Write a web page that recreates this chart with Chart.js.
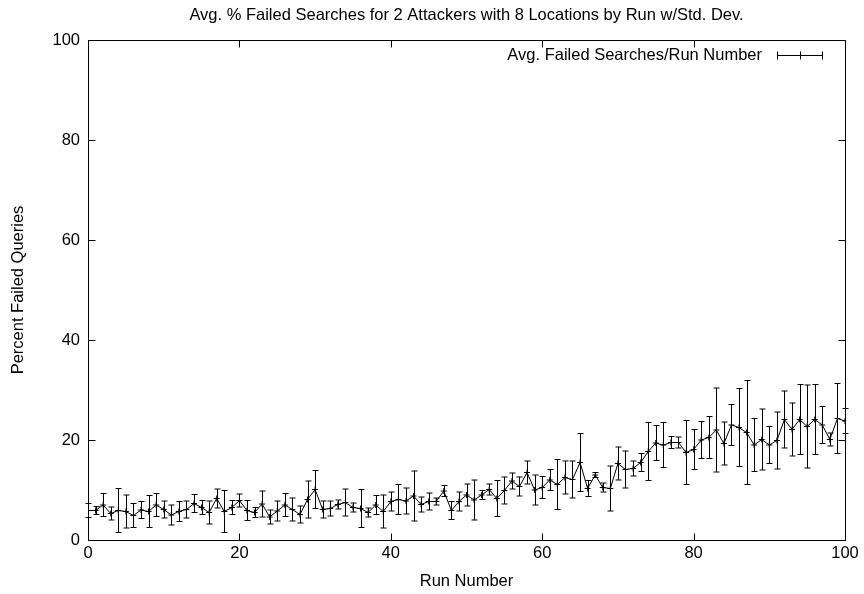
<!DOCTYPE html>
<html>
<head>
<meta charset="utf-8">
<script src="https://cdn.jsdelivr.net/npm/chart.js@4"></script>
<style>
html,body{margin:0;padding:0;background:#fff;}
#wrap{width:864px;height:594px;position:relative;}
</style>
</head>
<body>
<div id="wrap"><canvas id="c" width="864" height="594"></canvas></div>
<script>
const titleText = "Avg. % Failed Searches for 2 Attackers with 8 Locations by Run w/Std. Dev.";
const legendText = "Avg. Failed Searches/Run Number";
const xTitle = "Run Number";
const yTitle = "Percent Failed Queries";

const runs = Array.from({length: 101}, (_, i) => i);
const avgFailed = [
  5.9,5.9,7.0,5.3,5.9,5.7,4.9,6.0,5.7,7.0,
  6.1,5.0,5.7,6.1,7.3,6.5,5.5,8.3,5.7,6.5,
  7.9,5.9,5.5,7.2,4.6,5.8,7.0,6.1,5.1,8.1,
  10.1,6.1,6.3,7.1,7.5,6.5,6.3,5.5,7.0,5.7,
  7.7,8.1,7.8,8.8,7.1,7.7,7.7,9.8,5.9,7.7,
  9.0,8.0,9.0,10.1,8.3,9.9,11.8,10.7,13.5,10.0,
  10.5,12.0,11.1,12.5,12.1,15.5,10.3,13.0,10.5,10.3,
  15.3,14.1,14.3,15.5,17.7,19.4,19.0,19.5,19.5,17.5,
  18.1,20.0,20.5,22.0,19.3,23.0,22.5,21.5,19.0,20.1,
  19.0,19.9,24.1,22.1,24.1,22.7,24.1,23.0,20.1,24.3,
  23.8
];
const stdDev = [
  1.4,0.8,2.3,1.3,4.4,3.3,2.4,1.7,3.2,2.3,
  1.7,2.0,2.0,1.7,1.8,1.4,2.3,1.9,4.2,1.4,
  1.3,2.0,1.0,2.6,1.4,2.0,2.3,2.3,1.7,3.7,
  3.8,1.7,1.5,0.9,2.7,0.9,3.8,0.9,1.9,3.3,
  1.9,3.0,2.6,5.0,1.5,1.7,0.7,1.1,1.8,1.9,
  2.2,4.0,0.9,1.1,3.6,2.7,1.6,1.9,2.3,3.0,
  2.2,2.1,5.0,3.3,3.7,5.8,1.6,0.5,0.9,4.5,
  3.3,3.7,1.5,1.8,5.8,3.5,4.5,1.2,1.1,6.4,
  4.0,3.7,4.2,8.4,4.3,4.1,7.8,10.4,5.3,6.1,
  3.7,5.7,5.7,5.3,7.0,8.3,7.0,3.7,1.3,7.0,
  2.5
];
const xTicks = [0, 20, 40, 60, 80, 100];
const yTicks = [0, 20, 40, 60, 80, 100];

const FONT = "'Liberation Sans', Arial, Helvetica, sans-serif";
const FS = 16.5;

const gnuplotPlugin = {
  id: 'gnuplotPlugin',
  afterDatasetsDraw(chart) {
    const ctx = chart.ctx;
    const xs = chart.scales.x, ys = chart.scales.y;
    const a = chart.chartArea;
    ctx.save();
    ctx.strokeStyle = '#000';
    ctx.lineWidth = 1;
    // error bars
    const cap = 3;
    ctx.beginPath();
    for (let i = 0; i < runs.length; i++) {
      const px = Math.round(xs.getPixelForValue(runs[i])) + 0.5;
      const lo = ys.getPixelForValue(avgFailed[i] - stdDev[i]);
      const hi = ys.getPixelForValue(avgFailed[i] + stdDev[i]);
      ctx.moveTo(px, lo); ctx.lineTo(px, hi);
      ctx.moveTo(px - cap, hi); ctx.lineTo(px + cap, hi);
      ctx.moveTo(px - cap, lo); ctx.lineTo(px + cap, lo);
    }
    ctx.stroke();
    // frame
    const L = Math.round(a.left) + 0.5, R = Math.round(a.right) + 0.5;
    const T = Math.round(a.top) + 0.5, B = Math.round(a.bottom) + 0.5;
    ctx.strokeRect(L, T, R - L, B - T);
    // inward ticks, mirrored
    const tl = 7;
    ctx.beginPath();
    xTicks.forEach(v => {
      const px = Math.round(xs.getPixelForValue(v)) + 0.5;
      ctx.moveTo(px, B); ctx.lineTo(px, B - tl);
      ctx.moveTo(px, T); ctx.lineTo(px, T + tl);
    });
    yTicks.forEach(v => {
      const py = Math.round(ys.getPixelForValue(v)) + 0.5;
      ctx.moveTo(L, py); ctx.lineTo(L + tl, py);
      ctx.moveTo(R, py); ctx.lineTo(R - tl, py);
    });
    ctx.stroke();
    // title
    ctx.fillStyle = '#000';
    ctx.font = FS + 'px ' + FONT;
    ctx.textAlign = 'center';
    ctx.textBaseline = 'middle';
    ctx.fillText(titleText, (a.left + a.right) / 2, 15);
    // legend
    ctx.textAlign = 'right';
    const ly = 55.5;
    ctx.fillText(legendText, 762, ly);
    ctx.beginPath();
    const lx0 = 777, lx1 = 823;
    ctx.moveTo(lx0, ly); ctx.lineTo(lx1, ly);
    ctx.moveTo(lx0 + 0.5, ly - 4); ctx.lineTo(lx0 + 0.5, ly + 4);
    ctx.moveTo(lx1 - 0.5, ly - 4); ctx.lineTo(lx1 - 0.5, ly + 4);
    const mx = Math.round((lx0 + lx1) / 2) + 0.5;
    ctx.moveTo(mx, ly - 4); ctx.lineTo(mx, ly + 4);
    ctx.stroke();
    ctx.restore();
  }
};

new Chart(document.getElementById('c'), {
  type: 'line',
  data: {
    datasets: [{
      label: legendText,
      data: runs.map((r, i) => ({x: r, y: avgFailed[i]})),
      borderColor: '#000',
      borderWidth: 1,
      backgroundColor: '#000',
      pointStyle: 'cross',
      pointRadius: 3,
      pointBorderWidth: 1,
      pointBorderColor: '#000',
      tension: 0,
      fill: false
    }]
  },
  options: {
    responsive: false,
    animation: false,
    devicePixelRatio: 1,
    layout: {padding: {left: 0, right: 19, top: 40, bottom: 0}},
    plugins: {
      legend: {display: false},
      title: {display: false},
      tooltip: {enabled: false}
    },
    scales: {
      x: {
        type: 'linear',
        min: 0, max: 100,
        afterBuildTicks: s => { s.ticks = xTicks.map(v => ({value: v})); },
        afterFit: s => { s.height = 54; },
        grid: {display: false, drawTicks: false},
        border: {display: false},
        ticks: {color: '#000', font: {family: FONT, size: FS}, padding: 4, maxRotation: 0},
        title: {display: true, text: xTitle, color: '#000', font: {family: FONT, size: FS}, padding: {top: 0, bottom: 3}}
      },
      y: {
        type: 'linear',
        min: 0, max: 100,
        afterBuildTicks: s => { s.ticks = yTicks.map(v => ({value: v})); },
        afterFit: s => { s.width = 88; },
        grid: {display: false, drawTicks: false},
        border: {display: false},
        ticks: {color: '#000', font: {family: FONT, size: FS}, padding: 8},
        title: {display: true, text: yTitle, color: '#000', font: {family: FONT, size: FS}, padding: {top: 9, bottom: 0}}
      }
    }
  },
  plugins: [gnuplotPlugin]
});
</script>
</body>
</html>
